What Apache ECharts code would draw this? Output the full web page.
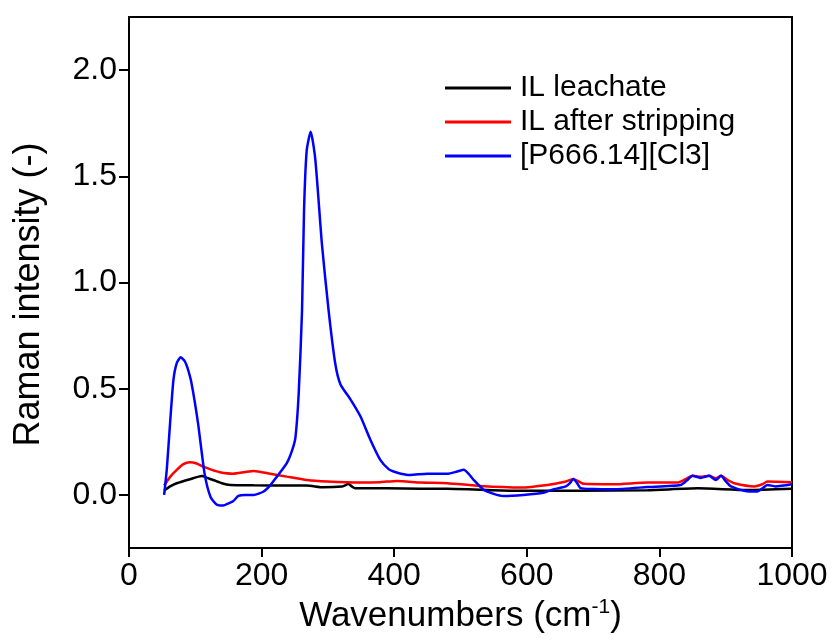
<!DOCTYPE html>
<html>
<head>
<meta charset="utf-8">
<script src="https://cdn.jsdelivr.net/npm/echarts@6/dist/echarts.min.js"></script>
<style>
  html, body { margin: 0; padding: 0; background: #fff; }
  #chart { width: 835px; height: 643px; }
</style>
</head>
<body>
<div id="chart"></div>
<script>
// Series names (legend order)
const seriesNames = ['IL leachate', 'IL after stripping', '[P666.14][Cl3]'];

// [wavenumber, intensity]
const ilLeachate = [
  [53, 0.02], [62, 0.04], [72, 0.055], [92, 0.074], [110, 0.089], [118, 0.08],
  [127, 0.07], [140, 0.055], [153, 0.047], [188, 0.045], [238, 0.044], [268, 0.044],
  [293, 0.036], [321, 0.039], [326, 0.045], [331, 0.052], [336, 0.04], [341, 0.031],
  [389, 0.031], [440, 0.029], [480, 0.029], [580, 0.02], [681, 0.02], [782, 0.022],
  [858, 0.031], [933, 0.023], [1000, 0.029]
];

const ilAfterStripping = [
  [53, 0.044], [62, 0.085], [72, 0.118], [82, 0.145], [92, 0.154], [102, 0.148],
  [112, 0.133], [125, 0.118], [137, 0.107], [157, 0.10], [175, 0.108], [188, 0.113],
  [213, 0.10], [238, 0.086], [268, 0.07], [299, 0.063], [349, 0.058], [379, 0.06],
  [404, 0.066], [440, 0.058], [480, 0.055], [530, 0.042], [591, 0.035], [631, 0.047],
  [659, 0.063], [670, 0.075], [686, 0.052], [731, 0.05], [782, 0.058], [827, 0.058],
  [840, 0.075], [850, 0.09], [862, 0.085], [875, 0.09], [885, 0.078], [893, 0.09],
  [903, 0.07], [913, 0.055], [943, 0.04], [955, 0.05], [963, 0.063], [1000, 0.06]
];

const p66614Cl3 = [
  [53, 0.0], [57, 0.12], [62, 0.34], [67, 0.54], [72, 0.62], [78, 0.648], [84, 0.63],
  [88, 0.60], [94, 0.53], [104, 0.34], [114, 0.10], [123, -0.01], [132, -0.045],
  [142, -0.05], [150, -0.04], [157, -0.03], [165, -0.005], [175, 0.0], [188, 0.0],
  [203, 0.016], [213, 0.045], [223, 0.086], [238, 0.15], [246, 0.21], [251, 0.27],
  [256, 0.48], [261, 0.87], [264, 1.34], [268, 1.62], [274, 1.71], [281, 1.58],
  [291, 1.18], [301, 0.87], [311, 0.62], [319, 0.52], [334, 0.45], [349, 0.37],
  [364, 0.26], [379, 0.165], [392, 0.12], [399, 0.11], [410, 0.10], [424, 0.094],
  [450, 0.10], [480, 0.099], [495, 0.11], [505, 0.118], [512, 0.10], [520, 0.07],
  [535, 0.024], [550, 0.005], [565, -0.005], [595, 0.0], [625, 0.01], [641, 0.027],
  [659, 0.04], [665, 0.055], [670, 0.075], [675, 0.06], [681, 0.032], [700, 0.028],
  [731, 0.027], [782, 0.037], [832, 0.047], [842, 0.07], [850, 0.09], [862, 0.08],
  [875, 0.09], [885, 0.07], [893, 0.09], [900, 0.065], [908, 0.04], [928, 0.02],
  [948, 0.016], [955, 0.03], [963, 0.047], [975, 0.04], [1000, 0.05]
];

const yTickValues = [0, 0.5, 1.0, 1.5, 2.0];
const seriesColors = ['#000000', '#ff0000', '#0000ff'];

const font = "Arial, 'Liberation Sans', sans-serif";
const chart = echarts.init(document.getElementById('chart'));

const makeLine = (name, data, color) => ({
  name: name,
  type: 'line',
  data: data,
  symbol: 'none',
  smooth: 0.2,
  lineStyle: { color: color, width: 2.5 },
  itemStyle: { color: color }
});

chart.setOption({
  backgroundColor: '#fff',
  animation: false,
  textStyle: { fontFamily: font },
  grid: {
    left: 129, right: 43, top: 17, bottom: 95,
    show: true, borderColor: '#000', borderWidth: 2, backgroundColor: 'transparent'
  },
  legend: {
    orient: 'vertical',
    left: 440, top: 68,
    itemWidth: 66, itemHeight: 3, itemGap: 4,
    icon: 'rect',
    textStyle: { fontSize: 30, color: '#000', fontFamily: font, padding: [0, 0, 0, 4] },
    data: seriesNames
  },
  xAxis: {
    type: 'value',
    min: 0, max: 1000, interval: 200,
    name: 'Wavenumbers (cm{sup|-1})',
    nameLocation: 'middle',
    nameGap: 44,
    nameTextStyle: {
      fontSize: 35, color: '#000', fontFamily: font, lineHeight: 38,
      rich: { sup: { fontSize: 21, verticalAlign: 'top', lineHeight: 38, fontFamily: font } }
    },
    axisLine: { show: true, onZero: false, lineStyle: { color: '#000', width: 2 } },
    axisTick: { show: true, inside: false, length: 9, lineStyle: { color: '#000', width: 2 } },
    axisLabel: { fontSize: 32, color: '#000', margin: 12, fontFamily: font, formatter: (v) => String(v) },
    splitLine: { show: false }
  },
  yAxis: {
    type: 'value',
    min: -0.25, max: 2.25,
    name: 'Raman intensity (-)',
    nameLocation: 'middle',
    nameGap: 82,
    nameTextStyle: { fontSize: 36, color: '#000', fontFamily: font, padding: [0, 24, 0, 0] },
    axisLine: { show: true, lineStyle: { color: '#000', width: 2 } },
    axisTick: { show: true, inside: false, length: 10, customValues: yTickValues, lineStyle: { color: '#000', width: 2 } },
    axisLabel: {
      fontSize: 32, color: '#000', margin: 12, fontFamily: font,
      customValues: yTickValues,
      formatter: (v) => v.toFixed(1)
    },
    splitLine: { show: false }
  },
  series: [
    makeLine(seriesNames[0], ilLeachate, seriesColors[0]),
    makeLine(seriesNames[1], ilAfterStripping, seriesColors[1]),
    makeLine(seriesNames[2], p66614Cl3, seriesColors[2])
  ]
});
</script>
</body>
</html>
